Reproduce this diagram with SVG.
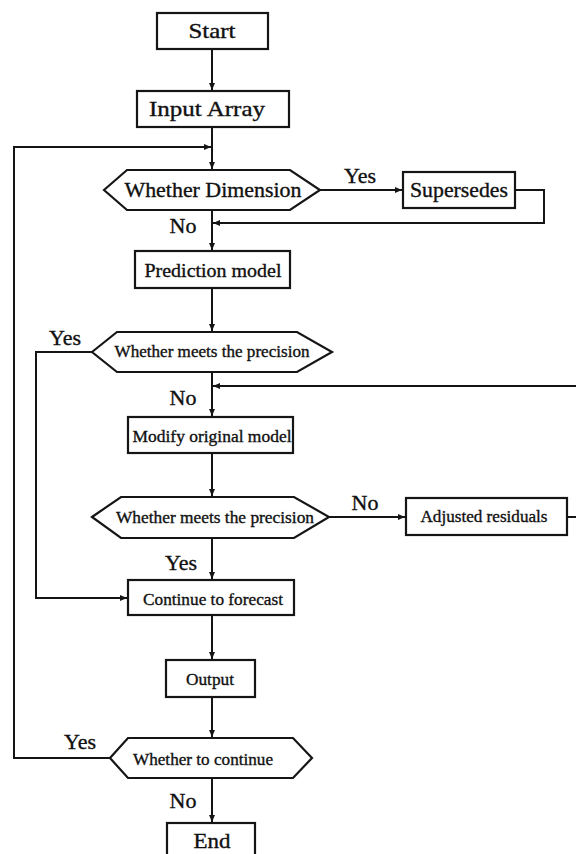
<svg xmlns="http://www.w3.org/2000/svg" width="576" height="854" viewBox="0 0 576 854">
  <style>
    .box { fill: #ffffff; stroke: #151515; stroke-width: 2.2; }
    .conn { fill: none; stroke: #151515; stroke-width: 2; }
    .t { font-family: "Liberation Serif", "Times New Roman", serif; fill: #111111; stroke: #111111; stroke-width: 0.35; text-anchor: middle; }
    .big { font-size: 21px; }
    .mid { font-size: 19px; }
    .sm { font-size: 17px; }
    .lbl { font-family: "Liberation Serif", "Times New Roman", serif; fill: #111111; stroke: #111111; stroke-width: 0.35; font-size: 22px; text-anchor: middle; }
  </style>
  <defs>
    <marker id="arrow" markerWidth="8" markerHeight="8" refX="7" refY="4" orient="auto" markerUnits="userSpaceOnUse">
      <path d="M0,1 L7,4 L0,7 Z" fill="#151515"/>
    </marker>
  </defs>
  <rect width="576" height="854" fill="#ffffff"/>

  <!-- connectors -->
  <g id="connectors">
    <path class="conn" d="M212,49 V90" marker-end="url(#arrow)"/>
    <path class="conn" d="M212,127 V169" marker-end="url(#arrow)"/>
    <!-- loop back from "Whether to continue" -->
    <path class="conn" d="M110,758 H14 V147 H211" marker-end="url(#arrow)"/>
    <path class="conn" d="M320,190 H402" marker-end="url(#arrow)"/>
    <path class="conn" d="M515,190 H544 V223 H213" marker-end="url(#arrow)"/>
    <path class="conn" d="M212,210 V250" marker-end="url(#arrow)"/>
    <path class="conn" d="M212,288 V331" marker-end="url(#arrow)"/>
    <path class="conn" d="M92,352 H36 V598 H127" marker-end="url(#arrow)"/>
    <path class="conn" d="M212,372 V416" marker-end="url(#arrow)"/>
    <path class="conn" d="M576,386 H213" marker-end="url(#arrow)"/>
    <path class="conn" d="M212,453 V496" marker-end="url(#arrow)"/>
    <path class="conn" d="M329,517 H405" marker-end="url(#arrow)"/>
    <path class="conn" d="M567,517 H576"/>
    <path class="conn" d="M212,538 V579" marker-end="url(#arrow)"/>
    <path class="conn" d="M212,615 V659" marker-end="url(#arrow)"/>
    <path class="conn" d="M212,697 V737" marker-end="url(#arrow)"/>
    <path class="conn" d="M212,778 V822" marker-end="url(#arrow)"/>
  </g>

  <!-- branch labels -->
  <g id="labels">
    <text class="lbl" x="360" y="183">Yes</text>
    <text class="lbl" x="183" y="233">No</text>
    <text class="lbl" x="65" y="345">Yes</text>
    <text class="lbl" x="183" y="405">No</text>
    <text class="lbl" x="365" y="510">No</text>
    <text class="lbl" x="181" y="570">Yes</text>
    <text class="lbl" x="80" y="749">Yes</text>
    <text class="lbl" x="183" y="808">No</text>
  </g>

  <g id="start">
    <rect class="box" x="157" y="13" width="111" height="36"/>
    <text class="t big" x="212" y="38" textLength="47" lengthAdjust="spacingAndGlyphs">Start</text>
  </g>

  <g id="input-array">
    <rect class="box" x="137" y="91" width="152" height="36"/>
    <text class="t big" x="207" y="116" textLength="116" lengthAdjust="spacingAndGlyphs">Input Array</text>
  </g>

  <g id="whether-dimension">
    <polygon class="box" points="104,190 127,170 290,170 320,190 290,210 127,210"/>
    <text class="t big" x="213" y="197" textLength="177" lengthAdjust="spacingAndGlyphs">Whether Dimension</text>
  </g>

  <g id="supersedes">
    <rect class="box" x="403" y="172" width="112" height="36"/>
    <text class="t big" x="459" y="197" textLength="98" lengthAdjust="spacingAndGlyphs">Supersedes</text>
  </g>

  <g id="prediction-model">
    <rect class="box" x="135" y="251" width="155" height="37"/>
    <text class="t mid" x="213" y="277" textLength="137" lengthAdjust="spacingAndGlyphs">Prediction model</text>
  </g>

  <g id="meets-precision-1">
    <polygon class="box" points="92,352 117,332 297,332 332,352 297,372 117,372"/>
    <text class="t sm" x="212" y="357" textLength="195" lengthAdjust="spacingAndGlyphs">Whether meets the precision</text>
  </g>

  <g id="modify-model">
    <rect class="box" x="128" y="417" width="165" height="36"/>
    <text class="t sm" x="212" y="442" textLength="159" lengthAdjust="spacingAndGlyphs">Modify original model</text>
  </g>

  <g id="meets-precision-2">
    <polygon class="box" points="92,517 121,497 294,497 329,517 294,538 121,538"/>
    <text class="t sm" x="215" y="523" textLength="198" lengthAdjust="spacingAndGlyphs">Whether meets the precision</text>
  </g>

  <g id="adjusted-residuals">
    <rect class="box" x="406" y="498" width="161" height="37"/>
    <text class="t sm" x="484" y="522" textLength="127" lengthAdjust="spacingAndGlyphs">Adjusted residuals</text>
  </g>

  <g id="continue-forecast">
    <rect class="box" x="128" y="580" width="166" height="35"/>
    <text class="t sm" x="213" y="605" textLength="140" lengthAdjust="spacingAndGlyphs">Continue to forecast</text>
  </g>

  <g id="output">
    <rect class="box" x="166" y="660" width="89" height="37"/>
    <text class="t sm" x="210" y="685" textLength="48" lengthAdjust="spacingAndGlyphs">Output</text>
  </g>

  <g id="whether-continue">
    <polygon class="box" points="110,758 128,738 293,738 312,758 293,778 128,778"/>
    <text class="t sm" x="203" y="765" textLength="140" lengthAdjust="spacingAndGlyphs">Whether to continue</text>
  </g>

  <g id="end">
    <rect class="box" x="167" y="823" width="88" height="40"/>
    <text class="t big" x="212" y="848" textLength="37" lengthAdjust="spacingAndGlyphs">End</text>
  </g>
</svg>
